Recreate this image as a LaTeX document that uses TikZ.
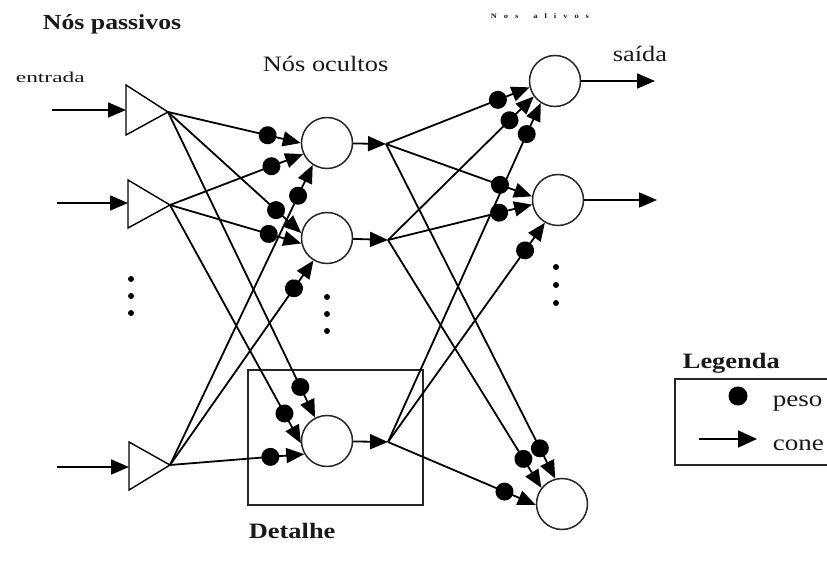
\documentclass[tikz,border=0pt]{standalone}
\usepackage{fontspec}
\setmainfont{Liberation Serif}[FakeStretch=1.2]
\usetikzlibrary{arrows.meta,decorations.markings}
\begin{document}
\begin{tikzpicture}[x=1pt,y=-1pt,
  line width=1.8pt,
  tip/.style={-{Triangle[length=18pt,width=15pt]}},
  neuron/.style={circle,draw=black!85,line width=1.5pt,minimum size=51pt,inner sep=0pt,fill=white},
  wconn/.style={tip,postaction={decorate},decoration={markings,mark=at position -34pt with {\fill (0,0) circle (9pt);}}},
  lbl/.style={anchor=base west,inner sep=0pt,text=black!90},
  vdot/.style={circle,fill=black,inner sep=0pt,minimum size=6pt}]
\useasboundingbox (0,0) rectangle (827,585);
\clip (0,0) rectangle (827,585);
\fill[white] (0,0) rectangle (827,585);

% texts
\node[lbl,font=\fontsize{21.5}{24}\selectfont\bfseries] (tpass) at (42,30) {Nós passivos};
\node[lbl,font=\fontsize{7}{8}\selectfont\bfseries] (tativ) at (490,19) {\spaceskip=7pt N o s\hspace{8pt} a l i v o s};
\node[lbl,font=\fontsize{15}{18}\selectfont] (tent) at (15,83) {\scalebox{1.3}[1]{entrada}};
\node[lbl,font=\fontsize{22}{26}\selectfont] (toc) at (262,72) {Nós ocultos};
\node[lbl,font=\fontsize{22}{26}\selectfont] (tsai) at (612,62) {saída};
\node[lbl,font=\fontsize{22}{26}\selectfont\bfseries] (tdet) at (248,538) {Detalhe};

% detail box
\draw[line width=1.5pt,draw=black!85] (248,370) rectangle (423,505);

% input triangles
\coordinate (t1) at (168,112); \coordinate (l1) at (126,110);
\coordinate (t2) at (170,205); \coordinate (l2) at (128,203);
\coordinate (t3) at (170,465); \coordinate (l3) at (129,467);
\draw[line width=1.4pt] (126,85) -- (t1) -- (126,135) -- cycle;
\draw[line width=1.4pt] (128,180) -- (t2) -- (128,228) -- cycle;
\draw[line width=1.4pt] (129,442) -- (t3) -- (129,490) -- cycle;

\coordinate (i1) at (52,110);
\coordinate (i2) at (57,203);
\coordinate (i3) at (57,467);
\draw[tip] (i1) -- (l1);
\draw[tip] (i2) -- (l2);
\draw[tip] (i3) -- (l3);

% nodes
\node[neuron] (h1) at (327,143) {};
\node[neuron] (h2) at (327,238) {};
\node[neuron] (h3) at (327,441) {};
\node[neuron] (o1) at (555,81) {};
\node[neuron] (o2) at (558,200) {};
\node[neuron] (o3) at (562,504) {};

\coordinate (b1) at (386,144);
\coordinate (b2) at (388,240);
\coordinate (b3) at (388,442);

% input -> hidden
\draw[wconn] (t1) -- (h1.180);
\draw[wconn] (t2) -- (h1.205);
\draw[wconn] (t3) -- (h1.237);
\draw[wconn] (t1) -- (h2.169);
\draw[wconn] (t2) -- (h2.192);
\draw[wconn] (t3) -- (h2.239);
\draw[wconn] (t1) -- (h3.117);
\draw[wconn] (t2) -- (h3.185);
\draw[wconn] (t3) -- (h3.210);
% hidden -> branch
\draw[tip] (h1) -- (b1);
\draw[tip] (h2) -- (b2);
\draw[tip] (h3) -- (b3);
% branch -> output
\draw[wconn] (b1) -- (o1.194);
\draw[wconn] (b2) -- (o1.216);
\draw[wconn] (b3) -- (o1.237);
\draw[wconn] (b1) -- (o2.172);
\draw[wconn] (b2) -- (o2.190);
\draw[wconn] (b3) -- (o2.240);
\draw[wconn] (b1) -- (o3.105);
\draw[wconn] (b2) -- (o3.142);
\draw[wconn] (b3) -- (o3.182);
% outputs
\coordinate (e1) at (655,81);
\coordinate (e2) at (657,200);
\draw[tip] (o1) -- (e1);
\draw[tip] (o2) -- (e2);

% vertical dots
\foreach \y [count=\i] in {279,296,313}{\node[vdot] (da\i) at (131,\y) {};}
\foreach \y [count=\i] in {297,314,331}{\node[vdot] (db\i) at (327,\y) {};}
\foreach \y [count=\i] in {267,285,303}{\node[vdot] (dc\i) at (556,\y) {};}

% legend
\node[lbl,font=\fontsize{22}{24}\selectfont\bfseries] (tleg) at (682,368) {Legenda};
\draw[line width=1.5pt,draw=black!85] (675,379) rectangle (845,465);
\node[circle,fill=black,inner sep=0pt,minimum size=19pt] (ldot) at (738,396) {};
\coordinate (la) at (699,439);
\coordinate (lb) at (757,439);
\draw[-{Triangle[length=19pt,width=17pt]}] (la) -- (lb);
\node[lbl,font=\fontsize{22.5}{26}\selectfont] (tpeso) at (772,406) {peso};
\node[lbl,font=\fontsize{22.5}{26}\selectfont] (tcone) at (772,450) {cone};
\end{tikzpicture}
\end{document}
